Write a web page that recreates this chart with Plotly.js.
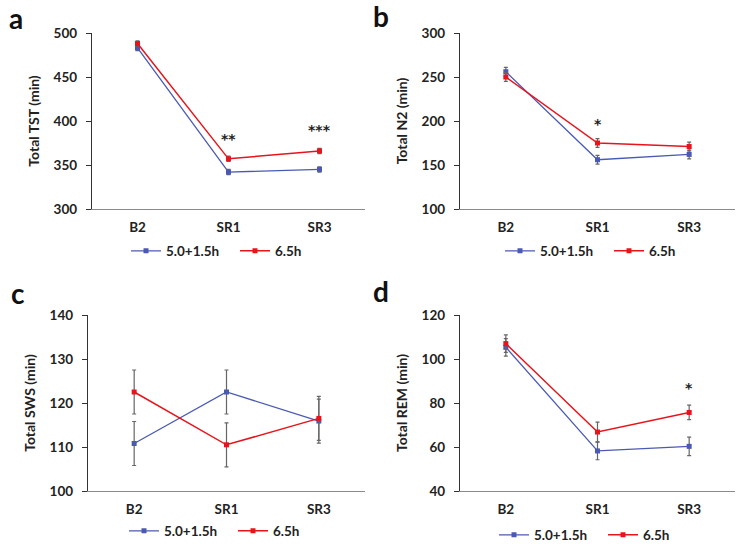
<!DOCTYPE html>
<html>
<head>
<meta charset="utf-8">
<script src="https://cdn.plot.ly/plotly-3.0.1.min.js"></script>
<style>html,body{margin:0;padding:0;background:#fff;overflow:hidden;}#chart{width:736px;height:544px;}</style>
</head>
<body>
<div id="chart"></div>
<script>
const categories = ["B2", "SR1", "SR3"];
const seriesNames = ["5.0+1.5h", "6.5h"];

// Panel a: Total TST (min)
const tstSplit = [483, 342, 345];
const tstSplitErr = [3, 3, 3];
const tstCont = [488, 357, 366];
const tstContErr = [3, 3, 3];

// Panel b: Total N2 (min)
const n2Split = [256, 156, 162];
const n2SplitErr = [5, 5, 5];
const n2Cont = [250, 175, 171];
const n2ContErr = [5, 5, 5];

// Panel c: Total SWS (min)
const swsSplit = [110.8, 122.5, 115.9];
const swsSplitErr = [5, 5, 5];
const swsCont = [122.5, 110.5, 116.5];
const swsContErr = [5, 5, 5];

// Panel d: Total REM (min)
const remSplit = [105.3, 58.2, 60.3];
const remSplitErr = [4, 4, 4.2];
const remCont = [107.0, 66.8, 75.7];
const remContErr = [4, 4.5, 3.3];

// significance marks
const sigPanels = ["a", "a", "b", "d"];
const sigCats = ["SR1", "SR3", "SR1", "SR3"];
const sigY = [379, 390, 197, 87];
const sigText = ["**", "***", "*", "*"];

const BLUE = "#4a5ab4";
const RED = "#e8141c";
const ERR = "#666666";
const FONT = "Lato";

const panels = [
  {xa: "x", ya: "y", leg: "legend", s: tstSplit, se: tstSplitErr, c: tstCont, ce: tstContErr},
  {xa: "x2", ya: "y2", leg: "legend2", s: n2Split, se: n2SplitErr, c: n2Cont, ce: n2ContErr},
  {xa: "x3", ya: "y3", leg: "legend3", s: swsSplit, se: swsSplitErr, c: swsCont, ce: swsContErr},
  {xa: "x4", ya: "y4", leg: "legend4", s: remSplit, se: remSplitErr, c: remCont, ce: remContErr}
];

const traces = [];
panels.forEach(p => {
  traces.push({
    x: categories, y: p.s, xaxis: p.xa, yaxis: p.ya, legend: p.leg,
    name: seriesNames[0], type: "scatter", mode: "lines+markers",
    line: {color: BLUE, width: 1.3}, marker: {color: BLUE, symbol: "square", size: 5},
    error_y: {type: "data", array: p.se, visible: true, color: ERR, thickness: 1.2, width: 2}
  });
  traces.push({
    x: categories, y: p.c, xaxis: p.xa, yaxis: p.ya, legend: p.leg,
    name: seriesNames[1], type: "scatter", mode: "lines+markers",
    line: {color: RED, width: 1.5}, marker: {color: RED, symbol: "square", size: 5},
    error_y: {type: "data", array: p.ce, visible: true, color: ERR, thickness: 1.2, width: 2}
  });
});

const W = 736, H = 544;
function dx(a, b) { return [a / W, b / W]; }
function dy(top, bottom) { return [1 - bottom / H, 1 - top / H]; }

function xAxis(domain, anchor) {
  return {
    domain: domain, anchor: anchor, type: "category", range: [-0.5, 2.5], automargin: false,
    showline: true, linecolor: "#8a8a8a", linewidth: 1.3, ticks: "", showgrid: false, zeroline: false,
    tickfont: {family: FONT, size: 13.5, color: "#222", weight: "bold"}, ticklabelstandoff: 5, fixedrange: true
  };
}
function yAxis(domain, anchor, range, dtick, title) {
  return {
    domain: domain, anchor: anchor, range: range, dtick: dtick, tick0: range[0], automargin: false,
    showline: true, linecolor: "#333", linewidth: 1.2, ticks: "outside", ticklen: 5, tickcolor: "#333",
    showgrid: false, zeroline: false,
    tickfont: {family: FONT, size: 13.5, color: "#222", weight: "bold"}, ticklabelstandoff: 6,
    title: {text: title, font: {family: FONT, size: 14, color: "#222", weight: "bold"}, standoff: 10},
    fixedrange: true
  };
}
function legendAt(xpx, ypx) {
  return {
    x: xpx / W, y: 1 - ypx / H, xanchor: "left", yanchor: "middle", orientation: "h",
    font: {family: FONT, size: 13.5, color: "#222", weight: "bold"}, bgcolor: "rgba(0,0,0,0)",
    entrywidth: 64, entrywidthmode: "pixels", itemclick: false, itemdoubleclick: false
  };
}

const layout = {
  width: W, height: H, margin: {l: 0, r: 0, t: 0, b: 0, autoexpand: false},
  paper_bgcolor: "#fff", plot_bgcolor: "#fff", showlegend: true,
  font: {family: FONT, color: "#222"},
  xaxis: xAxis(dx(92, 365), "y"),
  yaxis: yAxis(dy(33, 209), "x", [300, 500], 50, "Total TST (min)"),
  xaxis2: xAxis(dx(460, 735), "y2"),
  yaxis2: yAxis(dy(33, 209), "x2", [100, 300], 50, "Total N2 (min)"),
  xaxis3: xAxis(dx(88, 365), "y3"),
  yaxis3: yAxis(dy(315, 491), "x3", [100, 140], 10, "Total SWS (min)"),
  xaxis4: xAxis(dx(460, 735), "y4"),
  yaxis4: yAxis(dy(315, 491), "x4", [40, 120], 20, "Total REM (min)"),
  legend: legendAt(126, 251),
  legend2: legendAt(500, 251),
  legend3: legendAt(124, 531),
  legend4: legendAt(494, 535),
  annotations: []
};

const letters = [["a", 16, 18], ["b", 381, 16], ["c", 18, 293], ["d", 381, 291]];
letters.forEach(l => layout.annotations.push({
  text: l[0], xref: "paper", yref: "paper", x: l[1] / W, y: 1 - l[2] / H,
  xanchor: "center", yanchor: "middle", showarrow: false,
  font: {family: FONT, size: 28, color: "#111", weight: "bold"}
}));

const axMap = {a: ["x", "y"], b: ["x2", "y2"], c: ["x3", "y3"], d: ["x4", "y4"]};
sigPanels.forEach((p, i) => layout.annotations.push({
  text: sigText[i], xref: axMap[p][0], yref: axMap[p][1], x: sigCats[i], y: sigY[i],
  showarrow: false, xanchor: "center", yanchor: "middle",
  font: {family: "DejaVu Sans", size: 14, color: "#222", weight: "bold"}
}));

Plotly.newPlot("chart", traces, layout, {displayModeBar: false, staticPlot: true});
</script>
</body>
</html>
